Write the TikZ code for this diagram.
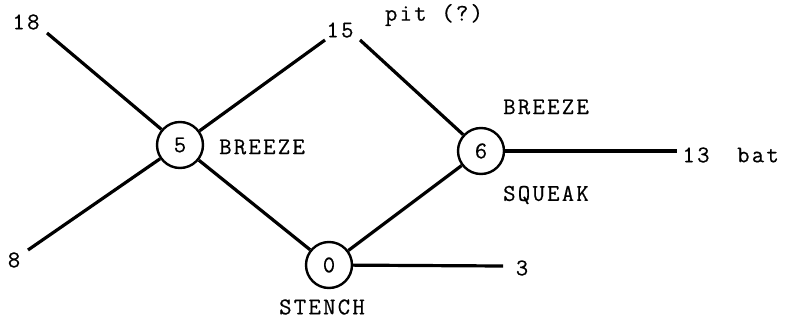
\documentclass[tikz,border=0pt]{standalone}
\usepackage{fontspec}
\newfontfamily\cour[LetterSpace=9.5,FakeBold=0.5]{Latin Modern Mono}
\begin{document}
\begin{tikzpicture}[x=1pt,y=-1pt,
  state/.style={circle,draw,line width=2.4pt,minimum size=46pt,inner sep=0pt,font=\cour\fontsize{24}{26}\selectfont},
  lbl/.style={inner sep=0pt,font=\cour\fontsize{24}{26}\selectfont},
  edge/.style={line width=3.2pt}]
\useasboundingbox (0,0) rectangle (786,321);
\node[state] (n5) at (180,145) {5};
\node[state] (n0) at (329,265) {0};
\node[state] (n6) at (481,151) {6};
\node[lbl] (l18) at (26,22) {18};
\node[lbl] (l8) at (14,260) {8};
\node[lbl] (l15) at (340,30) {15};
\node[lbl] (pit) at (434,15) {pit (?)};
\node[lbl] (b5) at (262,147) {BREEZE};
\node[lbl] (st) at (322,307) {STENCH};
\node[lbl] (b6) at (546,107) {BREEZE};
\node[lbl] (sq) at (546,195) {SQUEAK};
\node[lbl] (l13) at (696,155) {13};
\node[lbl] (bat) at (758,155) {bat};
\node[lbl] (l3) at (522,268) {3};
\coordinate (e18) at (47,33);
\coordinate (e8) at (28,250);
\coordinate (e15a) at (325,40);
\coordinate (e15b) at (360,40);
\coordinate (e13) at (677,151);
\coordinate (e3) at (503,266);
\draw[edge] (e18) -- (n5);
\draw[edge] (e8) -- (n5);
\draw[edge] (n5) -- (e15a);
\draw[edge] (e15b) -- (n6);
\draw[edge] (n5) -- (n0);
\draw[edge] (n0) -- (n6);
\draw[edge] (n6) -- (e13);
\draw[edge] (n0) -- (e3);
\end{tikzpicture}
\end{document}
